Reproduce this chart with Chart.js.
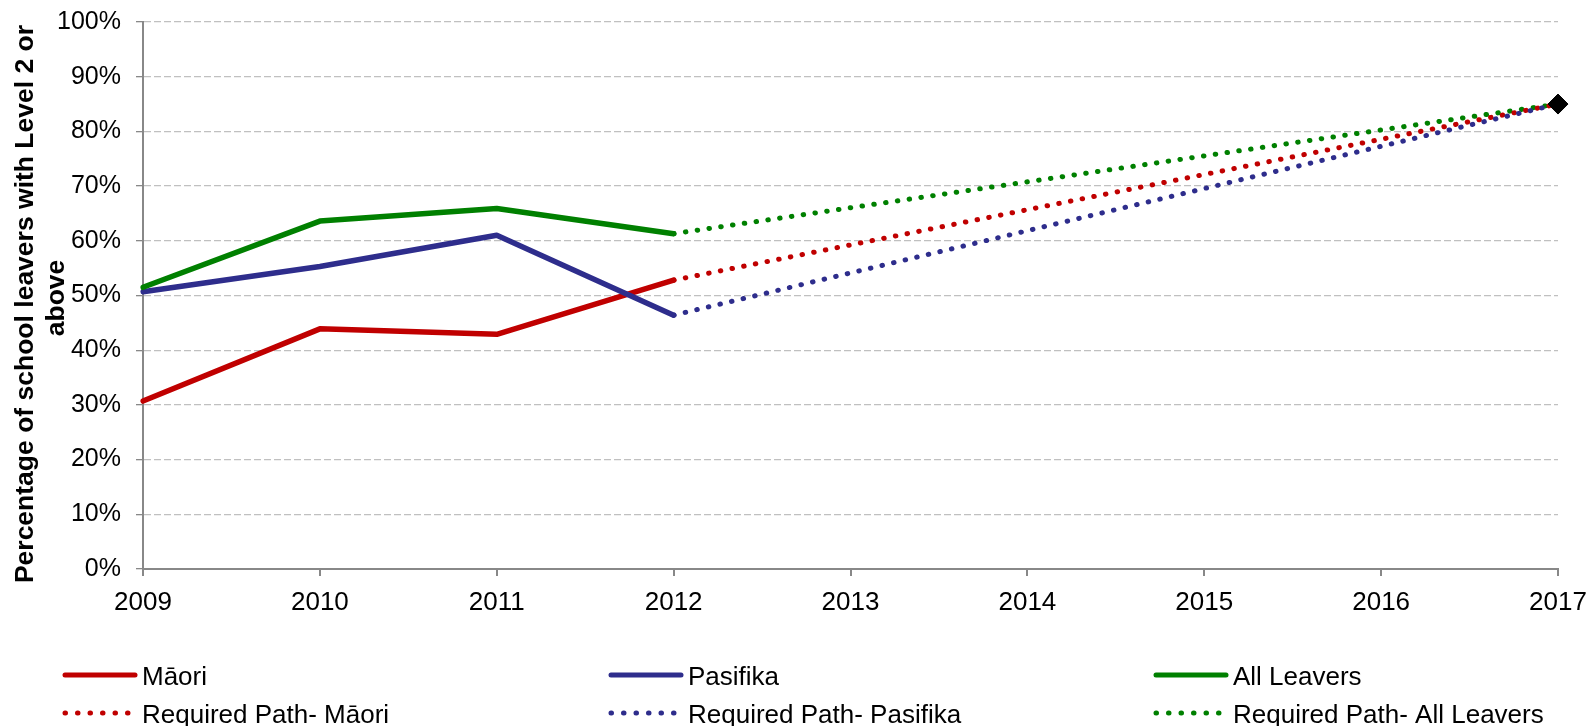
<!DOCTYPE html>
<html>
<head>
<meta charset="utf-8">
<script src="https://cdn.jsdelivr.net/npm/chart.js@4.4.1/dist/chart.umd.min.js"></script>
<style>
  html, body { margin: 0; padding: 0; background: #fff; }
</style>
</head>
<body>
<canvas id="leaversChart" width="1590" height="726"></canvas>
<script>
// === DATA ===
const years = ['2009', '2010', '2011', '2012', '2013', '2014', '2015', '2016', '2017'];
const maori = [30.7, 43.9, 42.9, 52.8, null, null, null, null, null];
const pasifika = [50.7, 55.3, 61.0, 46.4, null, null, null, null, null];
const allLeavers = [51.5, 63.6, 65.9, 61.3, null, null, null, null, null];
const pathMaori = [null, null, null, 52.8, null, null, null, null, 85];
const pathPasifika = [null, null, null, 46.4, null, null, null, null, 85];
const pathAll = [null, null, null, 61.3, null, null, null, null, 85];
const target = [null, null, null, null, null, null, null, null, 85];
const yTitle = ['Percentage of school leavers with Level 2 or', 'above'];

const RED = '#c00000';
const BLUE = '#2e2d8c';
const GREEN = '#008000';
const FONT = "'Liberation Sans', Arial, sans-serif";
const DOTS = [0.5, 11.4];

// === LEGEND (drawn by hand: 3 columns x 2 rows) ===
const legendItems = [
  { text: 'Māori', color: RED, dotted: false, col: 0, row: 0 },
  { text: 'Pasifika', color: BLUE, dotted: false, col: 1, row: 0 },
  { text: 'All Leavers', color: GREEN, dotted: false, col: 2, row: 0 },
  { text: 'Required Path- Māori', color: RED, dotted: true, col: 0, row: 1 },
  { text: 'Required Path- Pasifika', color: BLUE, dotted: true, col: 1, row: 1 },
  { text: 'Required Path- All Leavers', color: GREEN, dotted: true, col: 2, row: 1 }
];

const legendPlugin = {
  id: 'gridLegend',
  afterDraw(chart) {
    const ctx = chart.ctx;
    const colX = [64, 610, 1155];
    const rowY = [675, 713];
    ctx.save();
    ctx.font = '26px ' + FONT;
    ctx.textBaseline = 'alphabetic';
    ctx.fillStyle = '#000';
    legendItems.forEach(it => {
      const x = colX[it.col];
      const y = rowY[it.row];
      ctx.strokeStyle = it.color;
      ctx.lineWidth = 5;
      ctx.lineCap = 'round';
      ctx.beginPath();
      if (it.dotted) {
        ctx.setLineDash([0.5, 12]);
        ctx.moveTo(x + 1, y);
        ctx.lineTo(x + 64, y);
      } else {
        ctx.setLineDash([]);
        ctx.moveTo(x + 1, y);
        ctx.lineTo(x + 71, y);
      }
      ctx.stroke();
      ctx.setLineDash([]);
      ctx.fillText(it.text, x + 78, y + 10);
    });
    ctx.restore();
  }
};

// y axis title, two rotated lines
const yTitlePlugin = {
  id: 'yTitle',
  afterDraw(chart) {
    const ctx = chart.ctx;
    ctx.save();
    ctx.font = 'bold 26.5px ' + FONT;
    ctx.fillStyle = '#000';
    ctx.textAlign = 'center';
    ctx.textBaseline = 'alphabetic';
    const baseX = [33, 64];
    const midY = [304, 298];
    yTitle.forEach((line, i) => {
      ctx.save();
      ctx.translate(baseX[i], midY[i]);
      ctx.rotate(-Math.PI / 2);
      ctx.fillText(line, 0, 0);
      ctx.restore();
    });
    ctx.restore();
  }
};

const solid = (label, data, color, order) => ({
  label, data, borderColor: color, backgroundColor: color,
  borderWidth: 5.5, pointRadius: 0, tension: 0, order,
  borderCapStyle: 'round', borderJoinStyle: 'round'
});
const dotted = (label, data, color, order) => ({
  label, data, borderColor: color, backgroundColor: color,
  borderWidth: 5, pointRadius: 0, tension: 0, order, spanGaps: true,
  borderDash: DOTS, borderCapStyle: 'round'
});

new Chart(document.getElementById('leaversChart'), {
  type: 'line',
  data: {
    labels: years,
    datasets: [
      solid('Māori', maori, RED, 6),
      solid('Pasifika', pasifika, BLUE, 5),
      solid('All Leavers', allLeavers, GREEN, 4),
      dotted('Required Path- All Leavers', pathAll, GREEN, 3),
      dotted('Required Path- Māori', pathMaori, RED, 2),
      dotted('Required Path- Pasifika', pathPasifika, BLUE, 1),
      {
        label: 'Target', data: target, showLine: false, order: 0,
        pointStyle: 'rectRot', pointRadius: 10, pointBorderWidth: 1,
        pointBackgroundColor: '#000', pointBorderColor: '#000'
      }
    ]
  },
  options: {
    responsive: false,
    animation: false,
    layout: { padding: { top: 22, right: 32, bottom: 107, left: 0 } },
    plugins: {
      legend: { display: false },
      tooltip: { enabled: false }
    },
    scales: {
      x: {
        offset: false,
        grid: { drawOnChartArea: false, drawTicks: true, tickLength: 7, color: '#888', lineWidth: 2 },
        border: { color: '#888', width: 2 },
        ticks: { color: '#000', font: { family: FONT, size: 26 }, padding: 11, maxRotation: 0 },
        afterFit: s => { s.height = 50; s.paddingLeft = 0; s.paddingRight = 0; }
      },
      y: {
        min: 0, max: 100,
        grid: { color: '#c0c0c0', lineWidth: 1.3, tickLength: 7, tickColor: '#888' },
        border: { color: '#888', width: 2, dash: [7, 3] },
        ticks: {
          stepSize: 10, color: '#000', padding: 15,
          font: { family: FONT, size: 25 },
          callback: v => v + '%'
        },
        afterFit: s => { s.width = 143; s.paddingTop = 0; s.paddingBottom = 0; }
      }
    }
  },
  plugins: [legendPlugin, yTitlePlugin]
});
</script>
</body>
</html>
